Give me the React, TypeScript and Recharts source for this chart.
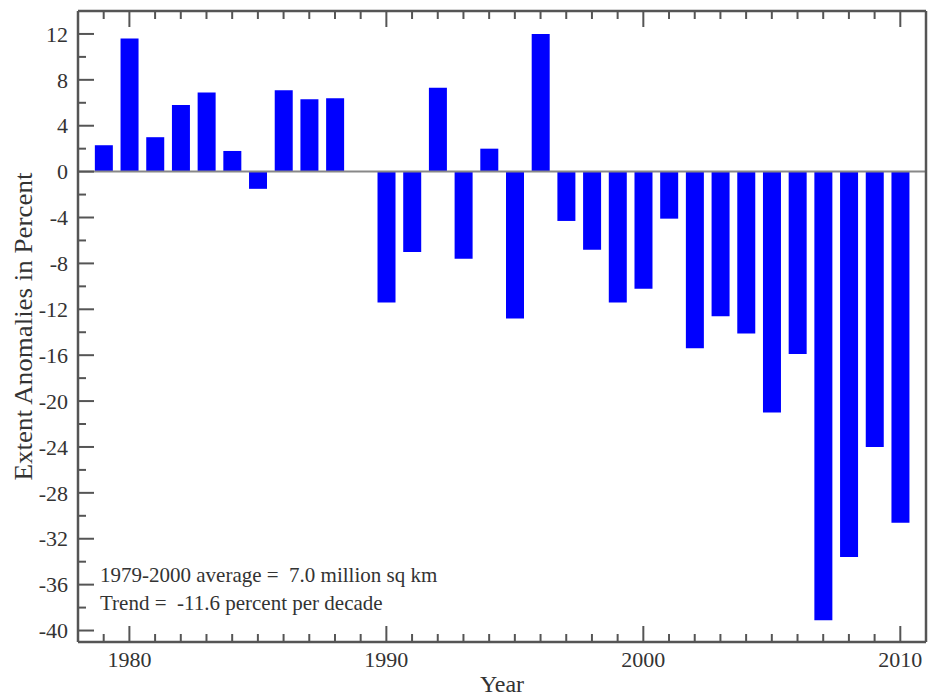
import { BarChart, Bar, XAxis, YAxis, ReferenceLine, Label } from "recharts";

// September sea ice extent anomalies (percent)
const YEARS = [
  1979, 1980, 1981, 1982, 1983, 1984, 1985, 1986, 1987, 1988, 1989, 1990,
  1991, 1992, 1993, 1994, 1995, 1996, 1997, 1998, 1999, 2000, 2001, 2002,
  2003, 2004, 2005, 2006, 2007, 2008, 2009, 2010,
];
const ANOMALIES = [
  2.3, 11.6, 3.0, 5.8, 6.9, 1.8, -1.5, 7.1, 6.3, 6.4, 0, -11.4,
  -7.0, 7.3, -7.6, 2.0, -12.8, 12.0, -4.3, -6.8, -11.4, -10.2, -4.1, -15.4,
  -12.6, -14.1, -21.0, -15.9, -39.1, -33.6, -24.0, -30.6,
];

const X_DOMAIN = [1978, 2011];
const X_TICKS = YEARS; // minor tick every year
const X_LABELS = [1980, 1990, 2000, 2010];
const Y_DOMAIN = [-41, 14];
const Y_TICKS = [
  -40, -38, -36, -34, -32, -30, -28, -26, -24, -22, -20, -18, -16, -14, -12,
  -10, -8, -6, -4, -2, 0, 2, 4, 6, 8, 10, 12,
];

const NOTE_LINES = [
  "1979-2000 average =  7.0 million sq km",
  "Trend =  -11.6 percent per decade",
];

const data = YEARS.map((year, i) => ({ year, value: ANOMALIES[i] }));

const AXIS = "#555";
const TEXT = "#333";
const FONT = "Liberation Serif, Times New Roman, serif";
const MAJOR = 16;
const MINOR = 8;

function LeftTick(props: any) {
  const { x, y, payload } = props;
  const v = payload.value as number;
  const major = v % 4 === 0;
  return (
    <g>
      <line x1={x} x2={x + (major ? MAJOR : MINOR)} y1={y} y2={y} stroke={AXIS} strokeWidth={2} />
      {major && (
        <text x={x - 10} y={y} dy="0.35em" textAnchor="end" fontSize={22} fontFamily={FONT} fill={TEXT}>
          {v}
        </text>
      )}
    </g>
  );
}

function RightTick(props: any) {
  const { x, y, payload } = props;
  const major = (payload.value as number) % 4 === 0;
  return <line x1={x} x2={x - (major ? MAJOR : MINOR)} y1={y} y2={y} stroke={AXIS} strokeWidth={2} />;
}

function BottomTick(props: any) {
  const { x, y, payload } = props;
  const v = payload.value as number;
  const major = X_LABELS.includes(v);
  return (
    <g>
      <line x1={x} x2={x} y1={y} y2={y - (major ? MAJOR : MINOR)} stroke={AXIS} strokeWidth={2} />
      {major && (
        <text x={x} y={y + 25} textAnchor="middle" fontSize={22} fontFamily={FONT} fill={TEXT}>
          {v}
        </text>
      )}
    </g>
  );
}

function TopTick(props: any) {
  const { x, y, payload } = props;
  const major = X_LABELS.includes(payload.value as number);
  return <line x1={x} x2={x} y1={y} y2={y + (major ? MAJOR : MINOR)} stroke={AXIS} strokeWidth={2} />;
}

function YTitle(props: any) {
  const vb = props.viewBox ?? { x: 18, y: 11, width: 60, height: 631 };
  const cx = 23;
  const cy = vb.y + vb.height / 2;
  return (
    <text
      x={cx}
      y={cy}
      transform={`rotate(-90, ${cx}, ${cy})`}
      dy="0.35em"
      textAnchor="middle"
      fontSize={25}
      fontFamily={FONT}
      fill={TEXT}
      textLength={308}
      lengthAdjust="spacingAndGlyphs"
    >
      Extent Anomalies in Percent
    </text>
  );
}

function XTitle(props: any) {
  const vb = props.viewBox ?? { x: 78, y: 642, width: 848, height: 40 };
  return (
    <g fontFamily={FONT} fill={TEXT}>
      <text x={vb.x + vb.width / 2} y={692} textAnchor="middle" fontSize={24}>
        Year
      </text>
      {NOTE_LINES.map((line, i) => (
        <text key={i} x={vb.x + 22} y={vb.y - 60 + i * 28} fontSize={21} style={{ whiteSpace: "pre" }}>
          {line}
        </text>
      ))}
    </g>
  );
}

export default function App() {
  return (
    <div style={{ position: "absolute", left: 0, top: 0, width: 932, height: 700, background: "#fff" }}>
      <BarChart
        width={932}
        height={700}
        data={data}
        margin={{ top: 9, right: 4, bottom: 18, left: 18 }}
      >
        <XAxis
          dataKey="year"
          type="number"
          domain={X_DOMAIN}
          ticks={X_TICKS}
          interval={0}
          height={40}
          tickSize={0}
          tickMargin={0}
          tickLine={false}
          tick={<BottomTick />}
          axisLine={{ stroke: AXIS, strokeWidth: 2.5 }}
        >
          <Label content={<XTitle />} />
        </XAxis>
        <XAxis
          xAxisId="top"
          orientation="top"
          dataKey="year"
          type="number"
          domain={X_DOMAIN}
          ticks={X_TICKS}
          interval={0}
          height={2}
          tickSize={0}
          tickMargin={0}
          tickLine={false}
          tick={<TopTick />}
          axisLine={{ stroke: AXIS, strokeWidth: 2.5 }}
        />
        <YAxis
          type="number"
          domain={Y_DOMAIN}
          ticks={Y_TICKS}
          interval={0}
          width={60}
          tickSize={0}
          tickMargin={0}
          tickLine={false}
          tick={<LeftTick />}
          axisLine={{ stroke: AXIS, strokeWidth: 2.5 }}
        >
          <Label content={<YTitle />} />
        </YAxis>
        <YAxis
          yAxisId="right"
          orientation="right"
          type="number"
          domain={Y_DOMAIN}
          ticks={Y_TICKS}
          interval={0}
          width={2}
          tickSize={0}
          tickMargin={0}
          tickLine={false}
          tick={<RightTick />}
          axisLine={{ stroke: AXIS, strokeWidth: 2.5 }}
        />
        <Bar dataKey="value" fill="#0000ff" barSize={18} isAnimationActive={false} />
        <ReferenceLine y={0} stroke="#888" strokeWidth={2} />
      </BarChart>
    </div>
  );
}
